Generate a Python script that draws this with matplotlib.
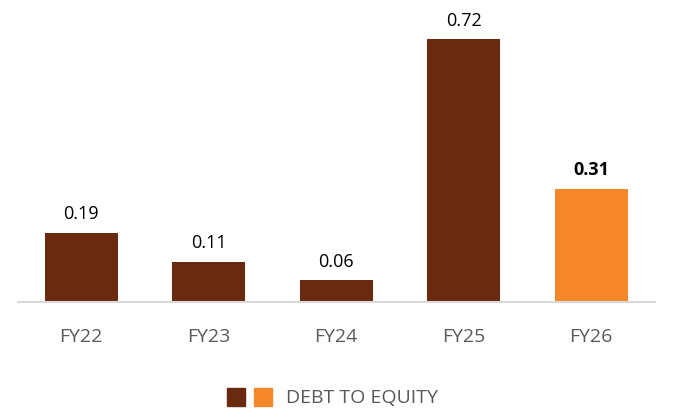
import matplotlib
matplotlib.use("Agg")
import matplotlib.pyplot as plt
from matplotlib.patches import Rectangle

categories = ["FY22", "FY23", "FY24", "FY25", "FY26"]
values = [0.19, 0.11, 0.06, 0.72, 0.31]
label_texts = ["0.19", "0.11", "0.06", "0.72", "0.31"]
series_name = "DEBT TO EQUITY"

BROWN = "#692A10"
ORANGE = "#F6872A"
colors = [BROWN, BROWN, BROWN, BROWN, ORANGE]

plt.rcParams["font.family"] = ["Open Sans", "DejaVu Sans"]

fig = plt.figure(figsize=(6.74, 4.10), dpi=100)
ax = fig.add_axes([17.5 / 674, (410 - 303) / 410, 637.5 / 674, 303 / 410])

x = list(range(len(categories)))
ax.bar(x, values, width=0.573, color=colors)
ax.set_xlim(-0.5, len(categories) - 0.5)
ax.set_ylim(0, 0.8295)

for i, (v, t) in enumerate(zip(values, label_texts)):
    ax.annotate(t, (i, v), xytext=(0, 14), textcoords="offset points",
                ha="center", va="center", fontsize=13, color="black",
                fontweight="bold" if i == len(values) - 1 else "normal")

ax.set_xticks(x)
ax.set_xticklabels(categories, fontsize=14, color="#595959")
ax.tick_params(axis="x", length=0, pad=18)
ax.set_yticks([])
for s in ["top", "right", "left"]:
    ax.spines[s].set_visible(False)
ax.spines["bottom"].set_color("#D9D9D9")
ax.spines["bottom"].set_linewidth(1.5)

# legend
H = 410
for x0, c in [(227, BROWN), (254, ORANGE)]:
    fig.add_artist(Rectangle((x0 / 674, (H - 407) / H), 18 / 674, 18 / H,
                             transform=fig.transFigure, color=c))
fig.text(286 / 674, (H - 398.5) / H, series_name, fontsize=14, color="#595959",
         ha="left", va="center")

fig.savefig("out.png", dpi=100)
